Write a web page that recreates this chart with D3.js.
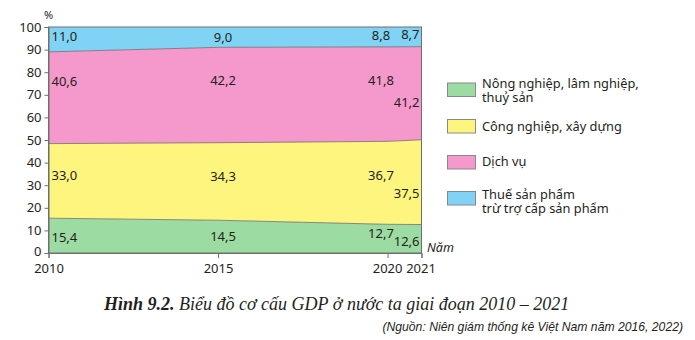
<!DOCTYPE html>
<html><head><meta charset="utf-8">
<script src="https://cdn.jsdelivr.net/npm/d3@7"></script>
<style>
body{margin:0;background:#fff;}
svg{display:block;font-family:"Noto Sans",sans-serif;}
</style></head>
<body><svg id="c" width="695" height="340"></svg>
<script>
const years = [2010, 2015, 2020, 2021];
const seriesNames = ["Nông nghiệp, lâm nghiệp, thuỷ sản", "Công nghiệp, xây dựng", "Dịch vụ", "Thuế sản phẩm trừ trợ cấp sản phẩm"];
const agriculture = [15.4, 14.5, 12.7, 12.6];
const industry = [33.0, 34.3, 36.7, 37.5];
const services = [40.6, 42.2, 41.8, 41.2];
const taxes = [11.0, 9.0, 8.8, 8.7];
const yTicks = [0, 10, 20, 30, 40, 50, 60, 70, 80, 90, 100];
const xTicks = [2010, 2015, 2020, 2021];
const legendLines = [["Nông nghiệp, lâm nghiệp,", "thuỷ sản"], ["Công nghiệp, xây dựng"], ["Dịch vụ"], ["Thuế sản phẩm", "trừ trợ cấp sản phẩm"]];

const colors = ["#9cdba1", "#fdf57e", "#f598cb", "#80d3f4"];
const textCol = "#231f20";
const svg = d3.select("#c");
const x = d3.scaleLinear().domain([2010, 2021]).range([48.5, 421.5]);
const y = d3.scaleLinear().domain([0, 100]).range([253, 27]);

const table = years.map((yr, i) => ({year: yr, a: agriculture[i], b: industry[i], c: services[i], d: taxes[i]}));
const keys = ["a", "b", "c", "d"];
const stack = d3.stack().keys(keys)(table);
const area = d3.area().x(d => x(d.data.year)).y0(d => y(d[0])).y1(d => y(d[1]));
const line = d3.line().x(d => x(d.data.year)).y(d => y(d[1]));

svg.append("g").selectAll("path").data(stack).join("path")
  .attr("d", area).attr("fill", (d, i) => colors[i]);
svg.append("g").selectAll("path").data(stack.slice(0, 3)).join("path")
  .attr("d", line).attr("fill", "none").attr("stroke", "#6f6f6f").attr("stroke-width", 0.8);
// frame
svg.append("rect").attr("x", x(2010)).attr("y", y(100)).attr("width", x(2021) - x(2010)).attr("height", y(0) - y(100))
  .attr("fill", "none").attr("stroke", "#6f6f6f").attr("stroke-width", 1);

// axes
const yAxis = svg.append("g").attr("transform", `translate(${x(2010)},0)`)
  .call(d3.axisLeft(y).tickValues(yTicks).tickSize(4).tickPadding(3).tickFormat(d3.format("d")));
const xAxis = svg.append("g").attr("transform", `translate(0,${y(0)})`)
  .call(d3.axisBottom(x).tickValues(xTicks).tickSize(5).tickPadding(5).tickFormat(d3.format("d")));
[yAxis, xAxis].forEach(g => {
  g.select(".domain").attr("stroke", "#6f6f6f");
  g.selectAll(".tick line").attr("stroke", "#6f6f6f");
  g.selectAll("text").attr("fill", textCol).style("font-size", "13px").style("font-family", "Noto Sans");
});
yAxis.selectAll(".tick").filter(d => d === 0).select("text").attr("dy", "0.22em");
xAxis.selectAll(".tick text").attr("dy", "0.8em");
xAxis.selectAll(".tick").filter(d => d === 2020).select("text").attr("dx", -0.5);
xAxis.selectAll(".tick").filter(d => d === 2021).select("text").attr("dx", -1);

svg.append("text").attr("x", 44).attr("y", 19).text("%").attr("fill", textCol).style("font-size", "11px");
svg.append("text").attr("x", 427).attr("y", 252).text("Năm").attr("fill", textCol).style("font-size", "12.5px").style("font-style", "italic");

// value labels
const fmt = v => d3.format(".1f")(v).replace(".", ",");
// position of label within band (fraction from bottom), per series, per year
const labelFrac = [[0.46, 0.49, 0.69, 0.39], [0.57, 0.57, 0.59, 0.37], [0.68, 0.65, 0.64, 0.4], [0.6, 0.51, 0.6, 0.6]];
const anchors = ["start", "middle", "middle", "end"];
const dxs = [3, 5, 0, -2];
stack.forEach((s, si) => {
  s.forEach((d, i) => {
    const v = d[0] + (d[1] - d[0]) * labelFrac[si][i];
    let xx = x(d.data.year) + dxs[i];
    if (i === 2) xx = 381;
    svg.append("text").attr("x", xx).attr("y", y(v)).attr("dy", "0.35em")
      .attr("text-anchor", anchors[i]).attr("fill", textCol).style("font-size", "13px")
      .text(fmt(d.data[keys[si]]));
  });
});

// legend
const lg = svg.append("g");
const boxY = [82.5, 119, 155, 191];
const baseY = [87.5, 130.5, 166, 199];
legendLines.forEach((lines, i) => {
  lg.append("rect").attr("x", 447.5).attr("y", boxY[i] + 0.5).attr("width", 28).attr("height", 13.5)
    .attr("fill", colors[i]).attr("stroke", "#8a8a8a").attr("stroke-width", 1);
  const t = lg.append("text").attr("fill", textCol).style("font-size", "12.8px");
  lines.forEach((s, j) => {
    t.append("tspan").attr("x", 482).attr("y", baseY[i] + j * 14).text(s);
  });
});

// captions
const cap = svg.append("text").attr("x", 104).attr("y", 310).attr("fill", textCol)
  .style("font-family", "Liberation Serif").style("font-size", "18px").style("font-style", "italic");
cap.append("tspan").style("font-weight", "bold").text("Hình 9.2.");
cap.append("tspan").text(" Biểu đồ cơ cấu GDP ở nước ta giai đoạn 2010 – 2021");
svg.append("text").attr("x", 683).attr("y", 331).attr("text-anchor", "end").attr("fill", textCol)
  .style("font-family", "Liberation Sans").style("font-size", "12.2px").style("font-style", "italic")
  .text("(Nguồn: Niên giám thống kê Việt Nam năm 2016, 2022)");
</script></body></html>
